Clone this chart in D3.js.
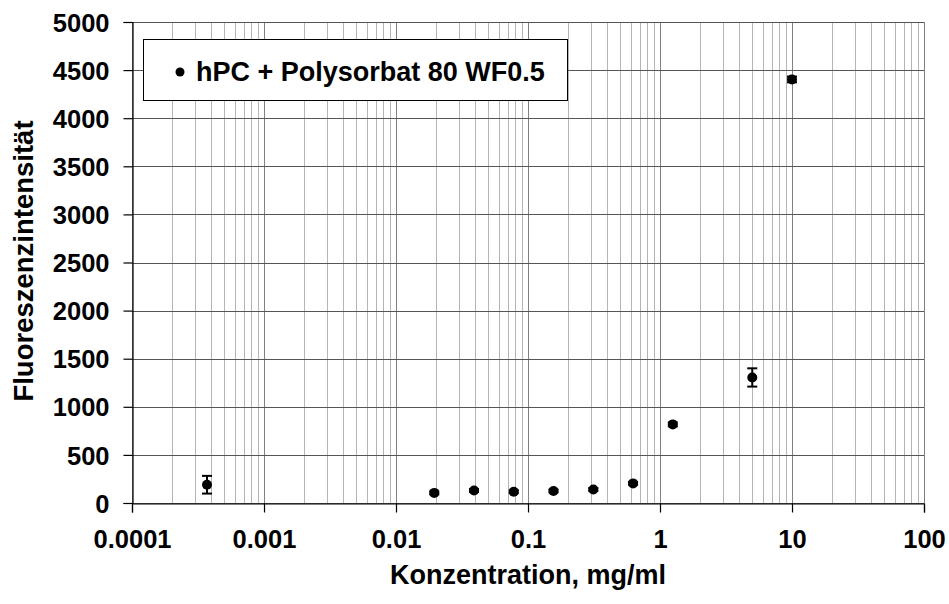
<!DOCTYPE html>
<html lang="de">
<head>
<meta charset="UTF-8">
<title>Fluoreszenzintensität</title>
<script src="https://d3js.org/d3.v7.min.js"></script>
<style>
  body { margin: 0; background: #fff; }
  text { font-family: Arial, "Liberation Sans", sans-serif; font-weight: bold; }
</style>
</head>
<body>
<div id="chart"></div>
<script>
// data
const concentrations = [0.00037, 0.0195, 0.039, 0.078, 0.156, 0.3125, 0.625, 1.25, 5, 10];
const intensities = [190, 105, 130, 117, 125, 141, 204, 817, 1305, 4403];
const errors = [92, 15, 15, 15, 15, 15, 15, 20, 95, 30];
const yTicks = [0, 500, 1000, 1500, 2000, 2500, 3000, 3500, 4000, 4500, 5000];
const xTicks = [0.0001, 0.001, 0.01, 0.1, 1, 10, 100];
const xTickLabels = ["0.0001", "0.001", "0.01", "0.1", "1", "10", "100"];
const seriesName = "hPC + Polysorbat 80 WF0.5";

const width = 949, height = 604;
const margin = { top: 22, right: 25, bottom: 101, left: 132 };
const fontSize = '25.5px';

const svg = d3.select('#chart').append('svg')
    .attr('width', width)
    .attr('height', height);

const x = d3.scaleLog().domain([0.0001, 100]).range([margin.left, width - margin.right]);
const y = d3.scaleLinear().domain([0, 5000]).range([height - margin.bottom, margin.top]);

// minor vertical grid (2..9 of every decade)
const minor = [];
for (let e = -4; e < 2; e++) {
    for (let k = 2; k <= 9; k++) minor.push(k * Math.pow(10, e));
}
svg.append('g').selectAll('line').data(minor).enter().append('line')
    .attr('x1', d => Math.round(x(d)) + 0.5).attr('x2', d => Math.round(x(d)) + 0.5)
    .attr('y1', y(5000)).attr('y2', y(0))
    .attr('stroke', '#b4b4b4').attr('stroke-width', 1);

// decade vertical grid
svg.append('g').selectAll('line').data(xTicks).enter().append('line')
    .attr('x1', d => Math.round(x(d)) + 0.5).attr('x2', d => Math.round(x(d)) + 0.5)
    .attr('y1', y(5000)).attr('y2', y(0))
    .attr('stroke', '#808080').attr('stroke-width', 1);

// horizontal grid
svg.append('g').selectAll('line').data(yTicks).enter().append('line')
    .attr('x1', x(0.0001)).attr('x2', x(100))
    .attr('y1', d => Math.round(y(d)) + 0.5).attr('y2', d => Math.round(y(d)) + 0.5)
    .attr('stroke', '#555').attr('stroke-width', 1);

// axes
const yAxis = svg.append('g')
    .attr('transform', `translate(${Math.round(x(0.0001)) + 0.5},0)`)
    .call(d3.axisLeft(y).tickValues(yTicks).tickFormat(d3.format('d')).tickSize(9).tickPadding(14));
const xAxis = svg.append('g')
    .attr('transform', `translate(0,${Math.round(y(0)) + 0.5})`)
    .call(d3.axisBottom(x).tickValues(xTicks).tickFormat((d, i) => xTickLabels[i]).tickSize(9).tickPadding(17));

[yAxis, xAxis].forEach(a => {
    a.select('.domain').attr('stroke', '#000').attr('stroke-width', 1.2);
    a.selectAll('.tick line').attr('stroke', '#000').attr('stroke-width', 1.2);
    a.selectAll('.tick text')
        .attr('fill', '#000')
        .attr('font-size', fontSize)
        .attr('font-weight', 'bold')
        .attr('font-family', 'Arial, "Liberation Sans", sans-serif');
});
yAxis.selectAll('.tick text').attr('dy', '0.36em');

// error bars
const pts = concentrations.map((c, i) => ({ c: c, v: intensities[i], e: errors[i] }));
const eb = svg.append('g').attr('stroke', '#000').attr('stroke-width', 2);
eb.selectAll('.v').data(pts).enter().append('line')
    .attr('x1', d => x(d.c)).attr('x2', d => x(d.c))
    .attr('y1', d => y(d.v - d.e)).attr('y2', d => y(d.v + d.e));
eb.selectAll('.t').data(pts).enter().append('line')
    .attr('x1', d => x(d.c) - 5).attr('x2', d => x(d.c) + 5)
    .attr('y1', d => y(d.v + d.e)).attr('y2', d => y(d.v + d.e));
eb.selectAll('.b').data(pts).enter().append('line')
    .attr('x1', d => x(d.c) - 5).attr('x2', d => x(d.c) + 5)
    .attr('y1', d => y(d.v - d.e)).attr('y2', d => y(d.v - d.e));

// points
svg.append('g').selectAll('circle').data(pts).enter().append('circle')
    .attr('cx', d => x(d.c))
    .attr('cy', d => y(d.v))
    .attr('r', 5)
    .attr('fill', '#000');

// legend
const legend = svg.append('g');
legend.append('rect')
    .attr('x', 143.5).attr('y', 39.5)
    .attr('width', 424).attr('height', 61)
    .attr('fill', '#fff').attr('stroke', '#000').attr('stroke-width', 1);
legend.append('circle').attr('cx', 180).attr('cy', 72).attr('r', 4.5).attr('fill', '#000');
legend.append('text')
    .attr('x', 196).attr('y', 80.5)
    .attr('font-size', '27px')
    .text(seriesName);

// axis titles
svg.append('text')
    .attr('x', (x(0.0001) + x(100)) / 2)
    .attr('y', 584)
    .attr('text-anchor', 'middle')
    .attr('font-size', '27px')
    .text('Konzentration, mg/ml');

svg.append('text')
    .attr('transform', `translate(33,261) rotate(-90)`)
    .attr('text-anchor', 'middle')
    .attr('font-size', '27.5px')
    .text('Fluoreszenzintensität');
</script>
</body>
</html>
